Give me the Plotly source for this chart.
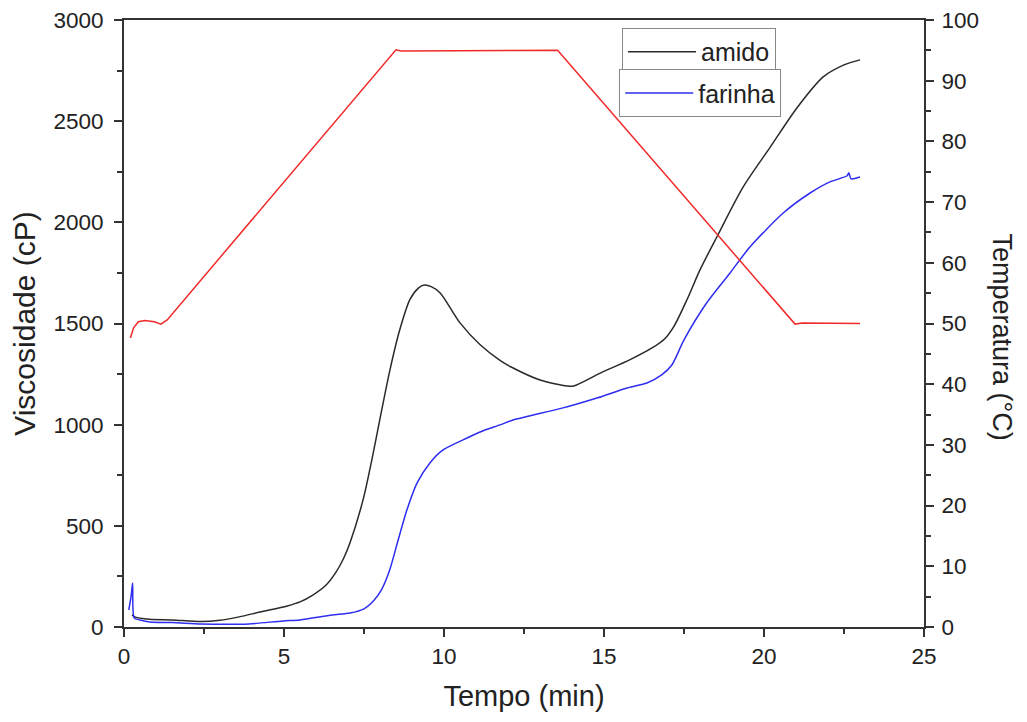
import plotly.graph_objects as go

# amido (starch) viscosity, cP
t_amido = [0.25, 0.34, 0.8, 1.5, 2.4, 3.0, 3.6, 4.25, 5.1, 5.5, 5.9, 6.3, 6.6, 6.85,
           7.06, 7.47, 7.75, 8.0, 8.31, 8.62, 8.94, 9.2, 9.38, 9.6, 9.88, 10.5, 11.13,
           11.75, 12.1, 13.0, 13.85, 14.05, 14.9, 15.8, 16.5, 16.9, 17.2, 17.6, 18.0,
           18.55, 19.35, 20.2, 21.05, 21.85, 22.5, 23.0]
v_amido = [60, 50, 38, 35, 27, 33, 50, 74, 104, 124, 158, 205, 265, 335,
           415, 628, 830, 1030, 1270, 1470, 1620, 1675, 1690, 1682, 1651, 1503, 1395,
           1318, 1285, 1221, 1191, 1191, 1256, 1320, 1379, 1425, 1490, 1620, 1765,
           1935, 2175, 2373, 2570, 2719, 2778, 2803]

# farinha (flour) viscosity, cP
t_farinha = [0.15, 0.22, 0.27, 0.32, 0.5, 0.8, 1.5, 2.4, 3.2, 3.9, 4.97, 5.5, 6.5,
             7.06, 7.5, 7.8, 8.05, 8.3, 8.55, 8.84, 9.16, 9.56, 9.97, 10.72, 11.13,
             11.75, 12.16, 13.72, 14.78, 15.72, 16.34, 16.8, 17.12, 17.5, 18.2, 18.94,
             19.56, 20.6, 21.44, 22.06, 22.6, 22.65, 22.72, 23.0]
v_farinha = [84, 150, 217, 44, 35, 25, 22, 15, 13, 15, 30, 35, 59,
             69, 90, 130, 185, 280, 420, 578, 712, 811, 875, 934, 964,
             999, 1023, 1083, 1132, 1181, 1206, 1246, 1295, 1419, 1600, 1750,
             1878, 2046, 2145, 2200, 2230, 2245, 2215, 2224]

# temperature profile, °C
t_temp = [0.2, 0.3, 0.45, 0.65, 0.95, 1.15, 1.35, 8.5, 8.65, 13.55, 20.97, 21.2, 23.0]
temp = [47.6, 49.3, 50.3, 50.5, 50.3, 49.9, 50.6, 95.1, 94.9, 95.0, 49.9, 50.1, 50.0]

FONT = "Liberation Sans, Arial, sans-serif"
AX = "#333333"

fig = go.Figure()

fig.add_trace(go.Scatter(
    x=t_amido, y=v_amido, mode="lines", name="amido",
    line=dict(color="#2a2a2a", width=1.5, shape="spline", smoothing=0.8),
    legend="legend",
))
fig.add_trace(go.Scatter(
    x=t_farinha, y=v_farinha, mode="lines", name="farinha",
    line=dict(color="#2e2ef0", width=1.5, shape="spline", smoothing=0.7),
    legend="legend2",
))
fig.add_trace(go.Scatter(
    x=t_temp, y=temp, mode="lines", name="Temperatura", yaxis="y2",
    line=dict(color="#f02a2a", width=1.5), showlegend=False,
))

axis_common = dict(
    showline=True, linecolor=AX, linewidth=2, showgrid=False, zeroline=False,
    ticks="outside", ticklen=8, tickwidth=2, tickcolor=AX,
    automargin=False, ticklabeloverflow="allow",
    tickfont=dict(size=22.5, color="#222222", family=FONT),
)

legend_common = dict(
    xanchor="left", yanchor="top", bordercolor="#888888", borderwidth=1,
    bgcolor="white", font=dict(size=25, family=FONT), tracegroupgap=0,
    itemwidth=68,
)

fig.update_layout(
    width=1011, height=706,
    margin=dict(l=116, r=95, t=12, b=87),
    plot_bgcolor="white", paper_bgcolor="white",
    font=dict(family=FONT, color="#222222"),
    xaxis=dict(
        range=[0, 25], dtick=5, mirror=True,
        minor=dict(dtick=2.5, ticks="outside", ticklen=5, tickwidth=2, tickcolor=AX),
        title=dict(text="Tempo (min)", font=dict(size=29), standoff=18),
        **axis_common,
    ),
    yaxis=dict(
        range=[0, 3000], dtick=500, ticklabelstandoff=6,
        minor=dict(dtick=250, ticks="outside", ticklen=5, tickwidth=2, tickcolor=AX),
        title=dict(text="Viscosidade (cP)", font=dict(size=30), standoff=10),
        **axis_common,
    ),
    yaxis2=dict(
        range=[0, 100], dtick=10, overlaying="y", side="right", ticklabelstandoff=3,
        minor=dict(dtick=5, ticks="outside", ticklen=5, tickwidth=2, tickcolor=AX),
        **axis_common,
    ),
    legend=dict(x=0.6225, y=0.987, **legend_common),
    legend2=dict(x=0.619, y=0.919, **legend_common),
    annotations=[dict(
        text="Temperatura (°C)", xref="paper", yref="paper",
        x=1.098, y=0.478, xanchor="center", yanchor="middle",
        textangle=90, showarrow=False,
        font=dict(size=27, family=FONT, color="#222222"),
    )],
)

fig.write_html("out.html")
